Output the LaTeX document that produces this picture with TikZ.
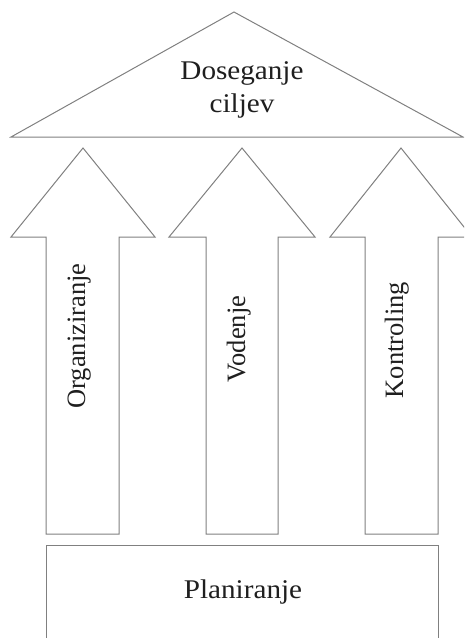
\documentclass[tikz,border=0pt]{standalone}
\usepackage{fontspec}
\setmainfont{Liberation Serif}
\newfontfamily\widefont[FakeStretch=1.08]{Liberation Serif}
\begin{document}
\begin{tikzpicture}[x=1pt,y=-1pt,
  outline/.style={draw=black!50, line width=1pt, line join=miter, fill=white},
  hlabel/.style={font=\widefont\fontsize{27}{33}\selectfont, text=black!88, inner sep=0pt, anchor=base},
  vlabel/.style={font=\fontsize{26.5}{32}\selectfont, text=black!88, inner sep=0pt, anchor=base, rotate=90}]
\useasboundingbox (0,0) rectangle (464,638);
\clip (0,0) rectangle (464,638);

% roof: the goal
\path[outline] (11,137) -- (234,12) -- (463,137) -- cycle;
\node[hlabel] (goalA) at (242,79) {Doseganje};
\node[hlabel] (goalB) at (242,112) {ciljev};

% three upward arrows (pillars)
\path[outline] (46,534) -- (46,237) -- (11,237) -- (83,148) -- (155,237) -- (119,237) -- (119,534) -- cycle;
\path[outline] (206,534) -- (206,237) -- (169,237) -- (242,148) -- (315,237) -- (278,237) -- (278,534) -- cycle;
\path[outline] (365,534) -- (365,237) -- (330,237) -- (401,148) -- (472,237) -- (438,237) -- (438,534) -- cycle;
\node[vlabel] (org) at (85,336) {Organiziranje};
\node[vlabel] (vod) at (245,339) {Vodenje};
\node[vlabel] (kon) at (403,340) {Kontroling};

% foundation
\path[outline] (46,545) rectangle (438,660);
\node[hlabel] (plan) at (243,598) {Planiranje};
\end{tikzpicture}
\end{document}
